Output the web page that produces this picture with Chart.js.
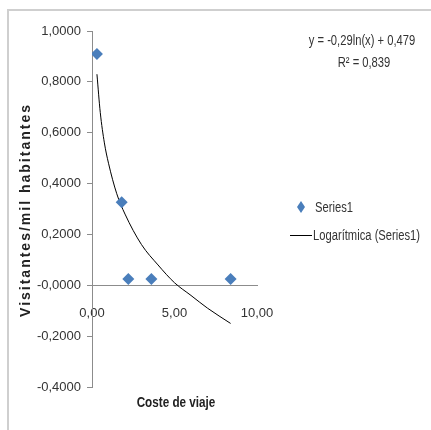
<!DOCTYPE html>
<html>
<head>
<meta charset="utf-8">
<script src="https://cdn.jsdelivr.net/npm/chart.js@4/dist/chart.umd.min.js"></script>
<style>
  html, body { margin: 0; padding: 0; background: #fff; }
  #wrap { position: relative; width: 431px; height: 430px; }
</style>
</head>
<body>
<div id="wrap"><canvas id="chart"></canvas></div>
<script>
// coste de viaje vs visitantes por mil habitantes
const costX = [0.3, 1.8, 2.2, 3.6, 8.4];
const visitY = [0.91, 0.327, 0.025, 0.025, 0.025];

// logarithmic trend line
const trendX = [0.3, 0.5, 0.75, 1, 1.5, 2, 3, 4, 5, 6, 7, 8.4];
const trendY = [0.83, 0.68, 0.56, 0.48, 0.36, 0.28, 0.16, 0.08, 0.01, -0.04, -0.09, -0.15];

const seriesLabels = ['Series1', 'Logarítmica (Series1)'];
const eqLines = ['y = -0,29ln(x) + 0,479', 'R² = 0,839'];
const xTitle = 'Coste de viaje';
const yTitle = 'Visitantes/mil habitantes';

const SANS = "'Liberation Sans', Arial, sans-serif";
const BLUE = '#4a7ebb';

const comma = (v, d) => v.toFixed(d).replace('.', ',');

// squeezed text, the original uses a narrow face
function narrow(c, text, x, y, align, sx) {
  c.save();
  c.translate(x, y);
  c.scale(sx, 1);
  c.textAlign = align;
  c.fillText(text, 0, 0);
  c.restore();
}

const extras = {
  id: 'extras',
  beforeDraw(chart) {
    const c = chart.ctx;
    c.save();
    c.strokeStyle = '#cfcfcf';
    c.lineWidth = 2;
    c.beginPath();
    c.moveTo(8, 430);
    c.lineTo(8, 10);
    c.lineTo(431, 10);
    c.stroke();
    c.restore();
  },
  afterDraw(chart) {
    const c = chart.ctx;
    c.save();
    c.textBaseline = 'middle';
    c.fillStyle = '#333';
    c.font = '14px ' + SANS;
    narrow(c, eqLines[0], 362, 41, 'center', 0.8);
    narrow(c, eqLines[1], 364, 63, 'center', 0.8);

    // axis titles
    c.fillStyle = '#222';
    c.font = 'bold 15px ' + SANS;
    narrow(c, xTitle, 176, 403, 'center', 0.78);

    c.save();
    c.translate(26, 210);
    c.rotate(-Math.PI / 2);
    c.font = 'bold 14px ' + SANS;
    c.letterSpacing = '2px';
    c.textAlign = 'center';
    c.fillText(yTitle, 0, 0);
    c.restore();

    // legend
    c.fillStyle = BLUE;
    c.beginPath();
    c.moveTo(301, 201); c.lineTo(305, 207); c.lineTo(301, 213); c.lineTo(297, 207);
    c.closePath(); c.fill();
    c.fillStyle = '#333';
    c.font = '14px ' + SANS;
    narrow(c, seriesLabels[0], 315, 208, 'left', 0.8);
    c.strokeStyle = '#000';
    c.lineWidth = 1;
    c.beginPath();
    c.moveTo(290, 235.5); c.lineTo(312, 235.5);
    c.stroke();
    narrow(c, seriesLabels[1], 313, 236, 'left', 0.8);
    c.restore();
  }
};

new Chart(document.getElementById('chart'), {
  type: 'scatter',
  data: {
    datasets: [
      {
        label: seriesLabels[0],
        data: costX.map((x, i) => ({ x, y: visitY[i] })),
        pointStyle: 'rectRot',
        pointRadius: 6,
        backgroundColor: BLUE,
        borderColor: BLUE,
        borderWidth: 0
      },
      {
        label: seriesLabels[1],
        data: trendX.map((x, i) => ({ x, y: trendY[i] })),
        showLine: true,
        pointRadius: 0,
        borderColor: '#000',
        borderWidth: 1,
        cubicInterpolationMode: 'monotone'
      }
    ]
  },
  options: {
    responsive: true,
    maintainAspectRatio: false,
    animation: false,
    layout: { padding: { left: 0, top: 31, right: 174, bottom: 43 } },
    plugins: { legend: { display: false }, tooltip: { enabled: false } },
    scales: {
      x: {
        type: 'linear',
        position: { y: 0 },
        min: 0, max: 10,
        ticks: { stepSize: 5, padding: 20, color: '#333', font: { family: SANS, size: 13 }, callback: v => comma(v, 2) },
        grid: { drawOnChartArea: false, drawTicks: false },
        border: { color: '#8c8c8c', width: 1 }
      },
      y: {
        min: -0.4, max: 1.0,
        afterFit: s => { s.width = 92; },
        ticks: { stepSize: 0.2, padding: 6, color: '#333', font: { family: SANS, size: 13 }, callback: v => comma(v, 4) },
        grid: { drawOnChartArea: false, tickLength: 5, color: '#8c8c8c' },
        border: { color: '#8c8c8c', width: 1 }
      }
    }
  },
  plugins: [extras]
});
</script>
</body>
</html>
